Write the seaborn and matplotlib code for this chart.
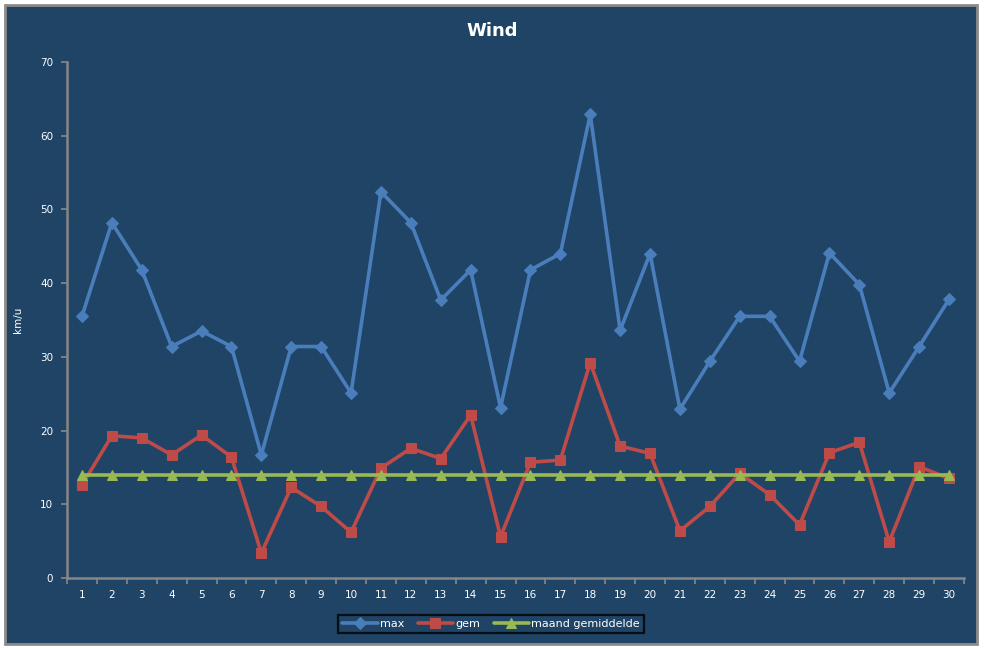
import matplotlib
matplotlib.use("Agg")
import matplotlib.pyplot as plt
import seaborn as sns
import pandas as pd
from matplotlib.patches import Rectangle

days = list(range(1, 31))
max_vals = [35.5, 48.2, 41.8, 31.4, 33.5, 31.4, 16.7, 31.4, 31.4, 25.1,
            52.4, 48.2, 37.7, 41.8, 23.1, 41.8, 44.0, 62.9, 33.6, 44.0,
            22.9, 29.4, 35.5, 35.5, 29.4, 44.1, 39.8, 25.1, 31.4, 37.8]
gem_vals = [12.6, 19.3, 19.0, 16.7, 19.4, 16.4, 3.4, 12.3, 9.7, 6.2,
            14.9, 17.6, 16.2, 22.1, 5.6, 15.7, 16.0, 29.2, 17.9, 16.9,
            6.4, 9.7, 14.2, 11.3, 7.2, 17.0, 18.4, 4.9, 15.1, 13.5]
maand_vals = [14.0] * 30
series_names = ["max", "gem", "maand gemiddelde"]
y_ticks = [0, 10, 20, 30, 40, 50, 60, 70]

bg = "#1F4466"
axis_grey = "#878787"
colors = ["#4A7EBB", "#BE4B48", "#98B954"]
markers = ["D", "s", "^"]
msizes = [6, 7.5, 7]

sns.set_theme(style="white")
plt.rcParams["font.family"] = ["DejaVu Sans"]

fig = plt.figure(figsize=(9.87, 6.48), dpi=100)
fig.patch.set_facecolor("white")
fig.patches.append(Rectangle((5 / 987, 1 - 644 / 648), 972 / 987, 639 / 648,
                             transform=fig.transFigure, facecolor=bg,
                             edgecolor="#8C8C8C", linewidth=2, zorder=-10))

ax = fig.add_axes([67 / 987, 1 - 578 / 648, (964 - 67) / 987, (578 - 62) / 648])
ax.set_facecolor(bg)
ax.patch.set_alpha(0)

df = pd.DataFrame({"dag": days, "max": max_vals, "gem": gem_vals,
                   "maand gemiddelde": maand_vals})
for name, c, m, ms in zip(series_names, colors, markers, msizes):
    sns.lineplot(data=df, x="dag", y=name, ax=ax, color=c, marker=m,
                 markersize=ms, markeredgecolor=c, linewidth=2.6, label=name,
                 clip_on=False)

ax.set_xlim(0.5, 30.5)
ax.set_ylim(0, 70)
ax.set_yticks(y_ticks)
ax.set_yticklabels([str(v) for v in y_ticks])
ax.set_xticks(days)
ax.set_xticklabels([str(d) for d in days])
ax.set_xticks([d + 0.5 for d in range(0, 31)], minor=True)
ax.tick_params(axis="x", which="major", length=0, pad=9, labelsize=7.5,
               colors="white")
ax.tick_params(axis="x", which="minor", length=4, width=1.2, color=axis_grey,
               direction="out", bottom=True)
ax.tick_params(axis="y", which="major", length=4, width=1.2, color=axis_grey,
               direction="out", labelsize=7.5, labelcolor="white", pad=6,
               left=True)
for sp in ["top", "right"]:
    ax.spines[sp].set_visible(False)
for sp in ["left", "bottom"]:
    ax.spines[sp].set_color(axis_grey)
    ax.spines[sp].set_linewidth(1.8)

ax.set_xlabel("")
ax.set_ylabel("km/u", color="white", fontsize=7.5, labelpad=12)

fig.text(492 / 987, 1 - 31 / 648, "Wind", color="white", fontsize=13,
         fontweight="bold", ha="center", va="center")

ax.legend_.remove()
handles, labels = ax.get_legend_handles_labels()
leg = fig.legend(handles, labels, loc="center", ncol=3,
                 bbox_to_anchor=(491 / 987, 1 - 624 / 648), frameon=True,
                 fontsize=8, handlelength=3.2, handletextpad=0.2,
                 columnspacing=1.2, borderpad=0.35, fancybox=False)
leg.get_frame().set_facecolor(bg)
leg.get_frame().set_edgecolor("black")
leg.get_frame().set_linewidth(1.6)
for t in leg.get_texts():
    t.set_color("white")

fig.savefig("out.png", dpi=100, facecolor=fig.get_facecolor())
